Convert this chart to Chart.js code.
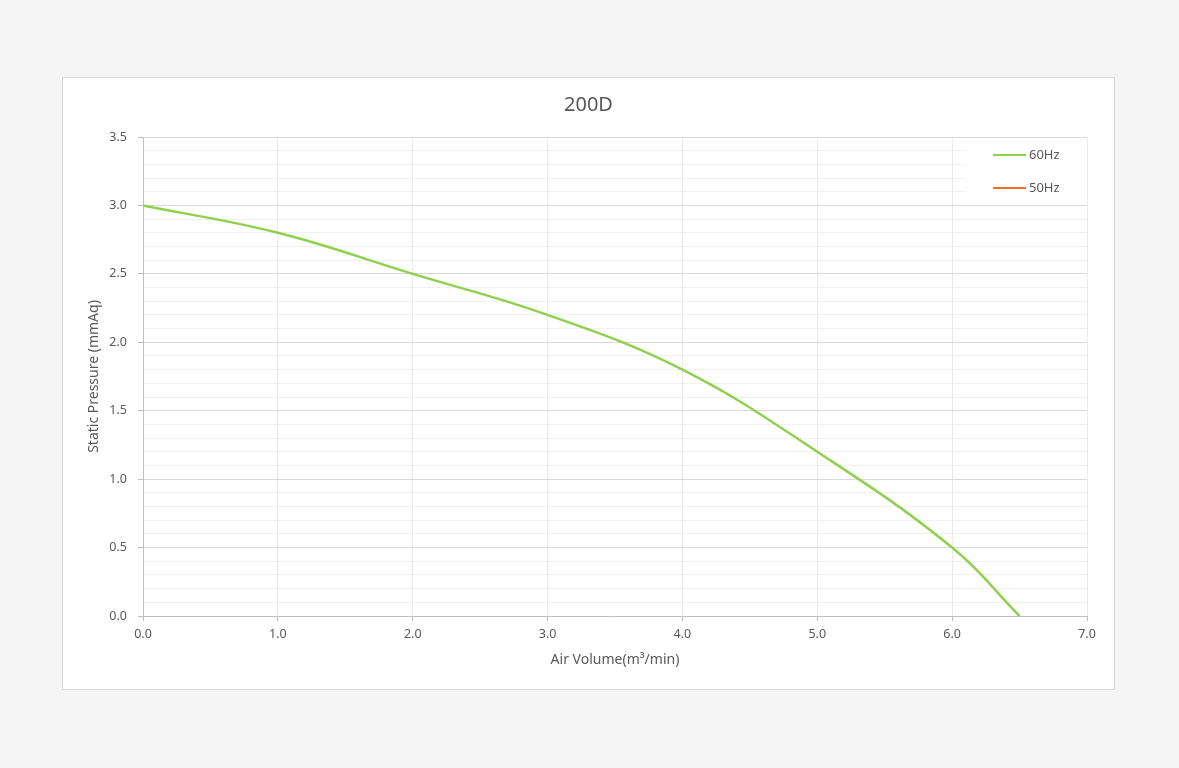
<!DOCTYPE html>
<html>
<head>
<meta charset="utf-8">
<title>200D</title>
<script src="https://cdn.jsdelivr.net/npm/chart.js@4"></script>
<style>
    body { margin: 0; background: #f5f5f5; }
    #box {
        position: absolute; left: 62px; top: 77px;
        width: 1051px; height: 611px;
        border: 1px solid #d9d9d9; background: #fff;
    }
</style>
</head>
<body>
<div id="box"><canvas id="curve" width="1051" height="611"></canvas></div>
<script>
// values
var airVolume = [0, 1, 2, 3, 4, 5, 6, 6.5]
var pressure60 = [3.0, 2.8, 2.5, 2.2, 1.8, 1.2, 0.5, 0]
var pressure50 = [] // only shown in the legend
var seriesNames = ["60Hz", "50Hz"]
var seriesColors = ["#8fd14f", "#f0701e"]
var chartTitle = "200D"

var textColor = "#595959"
var fontFamily = "'Noto Sans', sans-serif"

function toPoints(xs, ys) {
    var pts = []
    for (let i = 0; i < ys.length; i++) {
        pts.push({ x: xs[i], y: ys[i] })
    }
    return pts
}

function isMajor(v) {
    return Math.round(v * 10) % 5 === 0
}

// title centred on the whole box, legend drawn inside the plot (top right)
var boxDecor = {
    id: "boxDecor",
    afterDraw: function (chart) {
        var ctx = chart.ctx
        ctx.save()
        ctx.fillStyle = textColor
        ctx.font = "20px " + fontFamily
        ctx.textAlign = "center"
        ctx.textBaseline = "middle"
        ctx.fillText(chartTitle, chart.width / 2, 27)

        ctx.fillStyle = "#fff"
        ctx.fillRect(903, 61, 121, 65)
        var rows = [77, 110]
        ctx.textAlign = "left"
        chart.data.datasets.forEach(function (ds, i) {
            ctx.strokeStyle = ds.borderColor
            ctx.lineWidth = 2
            ctx.beginPath()
            ctx.moveTo(930, rows[i])
            ctx.lineTo(963, rows[i])
            ctx.stroke()
            ctx.fillStyle = textColor
            ctx.font = "13px " + fontFamily
            ctx.fillText(ds.label, 966, rows[i])
        })
        ctx.restore()
    }
}

var ctx = document.getElementById("curve").getContext("2d")
var myChart = new Chart(ctx, {
    type: "line",
    data: {
        datasets: [{
            label: seriesNames[0],
            data: toPoints(airVolume, pressure60),
            borderColor: seriesColors[0],
            borderWidth: 2.5,
            pointRadius: 0,
            tension: 0.4,
            fill: false
        }, {
            label: seriesNames[1],
            data: toPoints(airVolume, pressure50),
            borderColor: seriesColors[1],
            borderWidth: 2.5,
            pointRadius: 0,
            tension: 0.4,
            fill: false
        }]
    },
    options: {
        responsive: false,
        animation: false,
        layout: { padding: { left: 0, right: 27, top: 59, bottom: 0 } },
        plugins: {
            legend: { display: false },
            tooltip: { enabled: false },
            title: { display: false }
        },
        scales: {
            x: {
                type: "linear",
                min: 0,
                max: 7,
                ticks: {
                    stepSize: 1,
                    color: textColor,
                    padding: 6,
                    font: { family: fontFamily, size: 12.5 },
                    callback: function (v) { return v.toFixed(1) }
                },
                grid: { color: "#ebebeb", tickColor: "#bfbfbf", tickLength: 5 },
                border: { color: "#bfbfbf" },
                title: {
                    display: true,
                    text: "Air Volume(m³/min)",
                    color: textColor,
                    font: { family: fontFamily, size: 14 },
                    padding: { top: 0, bottom: 20.6 }
                },
                afterFit: function (scale) { scale.height = 73 }
            },
            y: {
                min: 0,
                max: 3.5,
                ticks: {
                    stepSize: 0.1,
                    autoSkip: false,
                    color: textColor,
                    padding: 11,
                    font: { family: fontFamily, size: 12.5 },
                    callback: function (v) { return isMajor(v) ? v.toFixed(1) : "" }
                },
                grid: {
                    tickLength: 5,
                    color: function (c) { return isMajor(c.tick.value) ? "#d9d9d9" : "#f0f0f0" },
                    tickColor: function (c) { return isMajor(c.tick.value) ? "#bfbfbf" : "rgba(0,0,0,0)" }
                },
                border: { color: "#bfbfbf" },
                title: {
                    display: true,
                    text: "Static Pressure (mmAq)",
                    color: textColor,
                    font: { family: fontFamily, size: 14 },
                    padding: { top: 22.6, bottom: 0 }
                },
                afterFit: function (scale) { scale.width = 80 }
            }
        }
    },
    plugins: [boxDecor]
})
</script>
</body>
</html>
